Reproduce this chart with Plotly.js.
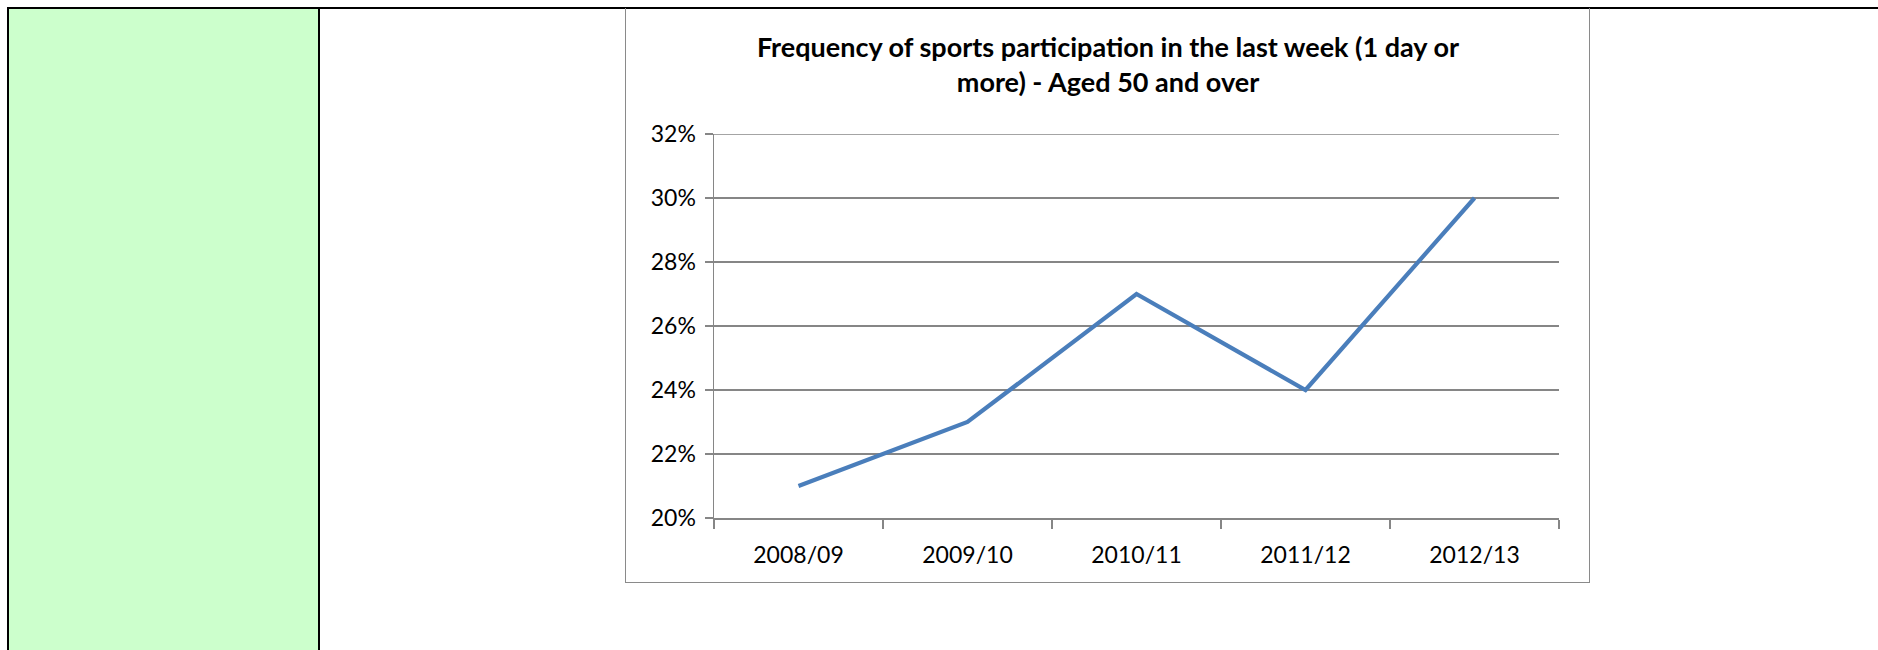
<!DOCTYPE html>
<html>
<head>
<meta charset="utf-8">
<script src="https://cdn.plot.ly/plotly-3.0.1.min.js"></script>
<style>
  html, body { margin: 0; padding: 0; background: #ffffff; }
  #wrap { position: relative; width: 1878px; height: 650px; overflow: hidden; background: #ffffff; }
  .abs { position: absolute; }
  #chart { position: absolute; left: 0; top: 0; width: 1878px; height: 650px; }
</style>
</head>
<body>
<div id="wrap">
  <div class="abs" style="left:9px; top:9px; width:309px; height:641px; background:#ccffcc;"></div>
  <div class="abs" style="left:7px; top:7px; width:1871px; height:2px; background:#000;"></div>
  <div class="abs" style="left:7px; top:7px; width:2px; height:643px; background:#000;"></div>
  <div class="abs" style="left:318px; top:7px; width:2px; height:643px; background:#000;"></div>
  <div class="abs" style="left:625px; top:8px; width:963px; height:574px; border:1.5px solid #8a8a8a; border-top:none;"></div>
  <div id="chart"></div>
</div>
<script>
const seasons = ["2008/09", "2009/10", "2010/11", "2011/12", "2012/13"];
const participation = [0.21, 0.23, 0.27, 0.24, 0.30];
const yTicks = [0.20, 0.22, 0.24, 0.26, 0.28, 0.30, 0.32];
const yTickLabels = ["20%", "22%", "24%", "26%", "28%", "30%", "32%"];
const chartTitle = "Frequency of sports participation in the last week (1 day or<br>more) - Aged 50 and over";

const FONT = "Lato, 'Open Sans', sans-serif";
const GRID = "#868686";

Plotly.newPlot("chart", [{
  x: seasons,
  y: participation,
  type: "scatter",
  mode: "lines",
  line: { color: "#4a7ebb", width: 4.2 },
  hoverinfo: "skip"
}], {
  width: 1878,
  height: 650,
  margin: { l: 714, r: 319, t: 134, b: 132, pad: 0 },
  paper_bgcolor: "rgba(0,0,0,0)",
  plot_bgcolor: "rgba(0,0,0,0)",
  showlegend: false,
  title: {
    text: "<b>" + chartTitle + "</b>",
    font: { family: FONT, size: 27, color: "#000" },
    x: 1108 / 1878,
    xref: "container",
    xanchor: "center",
    y: 1 - 57 / 650,
    yref: "container",
    yanchor: "top"
  },
  shapes: [{
    type: "line", xref: "paper", x0: 0, x1: 1, yref: "y",
    y0: yTicks[yTicks.length - 1], y1: yTicks[yTicks.length - 1],
    line: { color: GRID, width: 1.5 }, layer: "below"
  }],
  xaxis: {
    type: "category",
    tickson: "boundaries",
    ticks: "outside",
    ticklen: 9,
    tickwidth: 1.5,
    tickcolor: GRID,
    showline: true,
    linecolor: GRID,
    linewidth: 1.5,
    showgrid: false,
    zeroline: false,
    ticklabelstandoff: 16,
    tickfont: { family: FONT, size: 23, color: "#000" },
    range: [-0.5, 4.5],
    fixedrange: true
  },
  yaxis: {
    range: [0.20, 0.32],
    tickvals: yTicks,
    ticktext: yTickLabels,
    ticks: "outside",
    ticklen: 8,
    tickwidth: 1.5,
    tickcolor: GRID,
    showline: true,
    linecolor: GRID,
    linewidth: 1.5,
    showgrid: true,
    gridcolor: GRID,
    gridwidth: 1.5,
    zeroline: false,
    ticklabelstandoff: 4,
    tickfont: { family: FONT, size: 23, color: "#000" },
    fixedrange: true
  }
}, { staticPlot: true, displayModeBar: false });
</script>
</body>
</html>
